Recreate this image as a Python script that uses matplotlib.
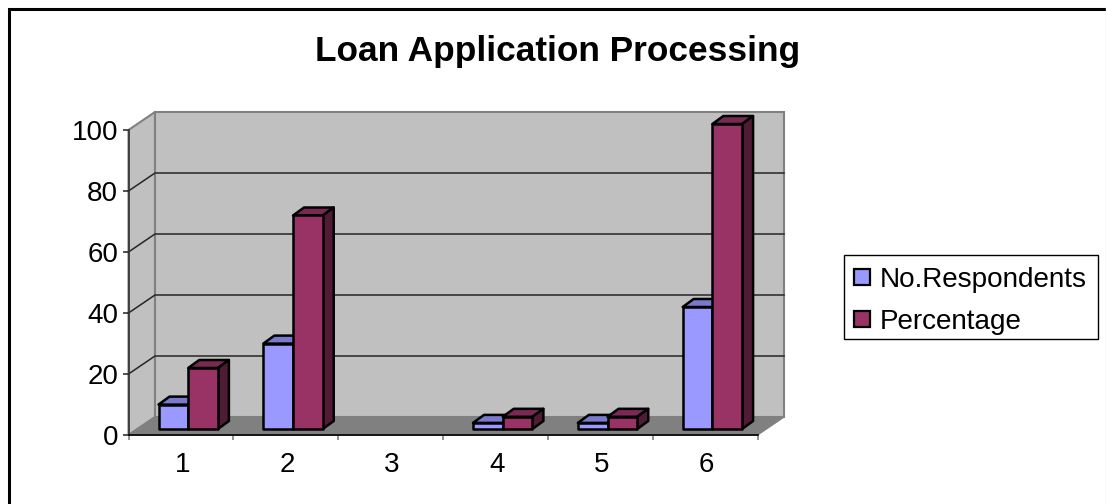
import matplotlib
matplotlib.use("Agg")
import matplotlib.pyplot as plt
from matplotlib.lines import Line2D
from matplotlib.patches import Polygon, Patch, Rectangle

plt.rcParams['font.family'] = ['Liberation Sans', 'DejaVu Sans']

categories = ['1', '2', '3', '4', '5', '6']
respondents = [8, 28, 0, 2, 2, 40]
percentage = [20, 70, 0, 4, 4, 100]
series_names = ['No.Respondents', 'Percentage']
title = 'Loan Application Processing'
y_ticks = [0, 20, 40, 60, 80, 100]

W, H = 1106, 504
L, R, T, B = 128.5, 757.5, 130, 435
DX, DY = 26.5, 18

BLUE = ('#9999FF', '#7A7ACC', '#5C5C99')
PLUM = ('#993366', '#7A2952', '#4F1B35')

fig = plt.figure(figsize=(W / 100, H / 100), dpi=100, facecolor='white')
ax = fig.add_axes([L / W, 1 - B / H, (R - L) / W, (B - T) / H])
ax.set_xlim(0, len(categories))
ax.set_ylim(0, 100)
ax.patch.set_visible(False)
for s in ('top', 'right'):
    ax.spines[s].set_visible(False)
ax.spines['left'].set_color('#333333')
ax.spines['bottom'].set_color('black')
ax.spines['left'].set_linewidth(1.2)
ax.spines['bottom'].set_linewidth(1.2)

ux = len(categories) / (R - L)   # data units per pixel in x
uy = 100 / (B - T)               # data units per pixel in y
dx, dy = DX * ux, DY * uy

n = len(categories)
def poly(pts, **kw):
    ax.add_patch(Polygon(pts, closed=True, clip_on=False, **kw))

# walls and floor
poly([(0, 0), (dx, dy), (dx, 100 + dy), (0, 100)], fc='#C0C0C0', ec='#808080', lw=1.5, zorder=1)
poly([(dx, dy), (n + dx, dy), (n + dx, 100 + dy), (dx, 100 + dy)], fc='#C0C0C0', ec='#808080', lw=1.5, zorder=1)
poly([(0, 0), (n, 0), (n + dx, dy), (dx, dy)], fc='#808080', ec='#808080', lw=1, zorder=1)

# gridlines
for v in y_ticks[1:-1]:
    ax.plot([0, dx, n + dx], [v, v + dy, v + dy], color='#262626', lw=1.1, clip_on=False, zorder=2)

# bars
bar_w = 29.7 * ux
gap = 21.8 * ux
fx, fy = 8.2 * ux, 6 * uy
bx, by = 11 * ux, 8 * uy

def bar3d(x0, v, cols, z):
    if v <= 0:
        return
    x = x0 + fx
    y0, y1 = fy, fy + v
    w = bar_w
    kw = dict(ec='black', lw=1.8, joinstyle='round', zorder=z)
    poly([(x, y1), (x + w, y1), (x + w + bx, y1 + by), (x + bx, y1 + by)], fc=cols[1], **kw)
    poly([(x + w, y0), (x + w + bx, y0 + by), (x + w + bx, y1 + by), (x + w, y1)], fc=cols[2], **kw)
    poly([(x, y0), (x + w, y0), (x + w, y1), (x, y1)], fc=cols[0], **kw)

for i in range(n):
    bar3d(i + gap, respondents[i], BLUE, 3 + i * 2)
    bar3d(i + gap + bar_w, percentage[i], PLUM, 4 + i * 2)

ax.set_yticks(y_ticks)
ax.set_yticklabels([str(v) for v in y_ticks], fontsize=20)
ax.set_xticks([i for i in range(n + 1)])
ax.set_xticklabels([''] * (n + 1))
for i, c in enumerate(categories):
    ax.text(i + 0.5 + 1.5 * ux, -30 * uy, c, ha='center', va='center', fontsize=20, clip_on=False)
ax.tick_params(axis='y', length=4.5, width=1.2, color='#333333', pad=3, direction='out')
ax.tick_params(axis='x', length=3.6, width=1.2, color='#808080', direction='out')

fig.text(558 / W, 1 - 51 / H, title, ha='center', va='center', fontsize=25.4, fontweight='bold')

# outer frame: black top and left edges, pale right edge, none at the bottom
fig.add_artist(Line2D([8.5 / W, 8.5 / W, 1], [0, 1 - 8.5 / H, 1 - 8.5 / H], color='black', lw=2.2,
                      transform=fig.transFigure, solid_joinstyle='miter'))
fig.add_artist(Line2D([1105.5 / W, 1105.5 / W], [0, 1 - 8 / H], color='#D9D9D9', lw=1,
                      transform=fig.transFigure))

# legend box drawn separately so its size can match the reference exactly
fig.add_artist(Rectangle((843.5 / W, 1 - 339 / H), 254.5 / W, 84 / H, transform=fig.transFigure,
                         fc='white', ec='black', lw=1.0))
handles = [Patch(fc=BLUE[0], ec='black', lw=1.6), Patch(fc=PLUM[0], ec='black', lw=1.6)]
leg = fig.legend(handles, series_names, loc='upper left',
                 bbox_to_anchor=(843 / W, 1 - 256 / H), bbox_transform=fig.transFigure,
                 fontsize=20.1, frameon=False,
                 borderaxespad=0, handlelength=0.58, handleheight=0.5, handletextpad=0.36,
                 labelspacing=0.58, borderpad=0.38)

fig.savefig('out.png', dpi=100)
